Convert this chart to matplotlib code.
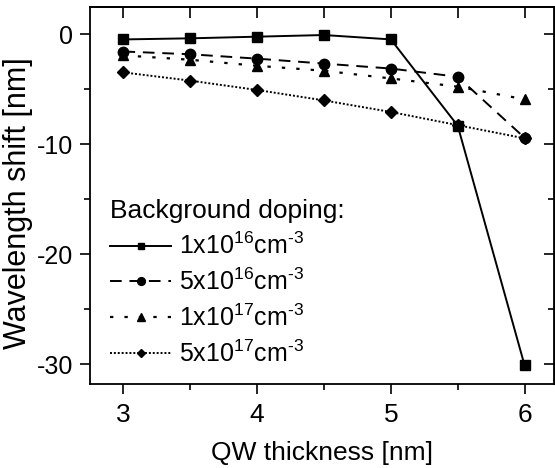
import numpy as np
import matplotlib
matplotlib.use("Agg")
import matplotlib.pyplot as plt
from matplotlib.ticker import MultipleLocator

plt.rcParams['font.family'] = ['Liberation Sans', 'DejaVu Sans']
plt.rcParams['mathtext.fontset'] = 'custom'
plt.rcParams['mathtext.rm'] = 'Liberation Sans'
plt.rcParams['mathtext.it'] = 'Liberation Sans'
plt.rcParams['axes.unicode_minus'] = False

# QW thickness [nm]
thickness = [3.0, 3.5, 4.0, 4.5, 5.0, 5.5, 6.0]

# wavelength shift [nm] per background doping
shift_1e16 = [-0.45, -0.35, -0.2, -0.05, -0.45, -8.3, -30.1]
shift_5e16 = [-1.55, -1.8, -2.2, -2.65, -3.1, -3.85, -9.4]
shift_1e17 = [-1.9, -2.3, -2.85, -3.3, -4.0, -4.75, -5.9]
shift_5e17 = [-3.45, -4.2, -5.05, -6.0, -7.05, -8.25, -9.45]

labels = [r'1x10$^{16}$cm$^{\text{-}3}$', r'5x10$^{16}$cm$^{\text{-}3}$',
          r'1x10$^{17}$cm$^{\text{-}3}$', r'5x10$^{17}$cm$^{\text{-}3}$']

fig = plt.figure(figsize=(5.55, 4.68), dpi=100)
ax = fig.add_axes([90 / 555, 84 / 468, 464 / 555, 377 / 468])

ax.plot(thickness, shift_1e16, color='black', ls='-', lw=1.4,
        marker='s', ms=6.5, label=labels[0])
ax.plot(thickness, shift_5e16, color='black', ls=(0, (6, 4)), lw=1.4,
        marker='o', ms=7.5, label=labels[1])
ax.plot(thickness, shift_1e17, color='black', ls=(0, (1.5, 5)), lw=1.6,
        marker='^', ms=7.5, label=labels[2])
ax.plot(thickness, shift_5e17, color='black', ls=(0, (1, 1)), lw=1.4,
        marker='D', ms=6, label=labels[3])

ax.set_xlim(2.75, 6.22)
ax.set_ylim(-31.8, 2.5)
ax.xaxis.set_major_locator(MultipleLocator(1))
ax.xaxis.set_minor_locator(MultipleLocator(0.5))
ax.yaxis.set_major_locator(MultipleLocator(10))
ax.yaxis.set_minor_locator(MultipleLocator(5))

ax.tick_params(which='both', direction='out', width=1.2, top=False, right=False)
ax.tick_params(which='major', length=7)
ax.tick_params(which='minor', length=4)
ax.tick_params(axis='x', labelsize=19, pad=7)
ax.tick_params(axis='y', labelsize=18, pad=5)

# inward ticks on top and right sides
sec_x = ax.secondary_xaxis('top')
sec_x.xaxis.set_major_locator(MultipleLocator(0.5))
sec_x.tick_params(direction='in', length=8, width=1.2, labeltop=False)
sec_x.spines['top'].set_linewidth(1.3)
sec_y = ax.secondary_yaxis('right')
sec_y.yaxis.set_major_locator(MultipleLocator(10))
sec_y.yaxis.set_minor_locator(MultipleLocator(5))
sec_y.tick_params(which='major', direction='in', length=7, width=1.2, labelright=False)
sec_y.tick_params(which='minor', direction='in', length=4, width=1.2)

for s in ax.spines.values():
    s.set_linewidth(1.3)

ax.set_xlabel('QW thickness [nm]', fontsize=19, labelpad=10)
ax.set_ylabel('Wavelength shift [nm]', fontsize=22)
ax.yaxis.set_label_coords(-0.123, 0.479)

leg = ax.legend(loc='lower left', bbox_to_anchor=(0.043, 0.045), frameon=False,
                title='Background doping:', fontsize=18, title_fontsize=19,
                handlelength=2.45, handletextpad=0.3, labelspacing=0.38,
                borderaxespad=0.0, borderpad=0.0, markerscale=0.75)
leg._legend_box.align = 'left'

fig.savefig('out.png', dpi=100)
